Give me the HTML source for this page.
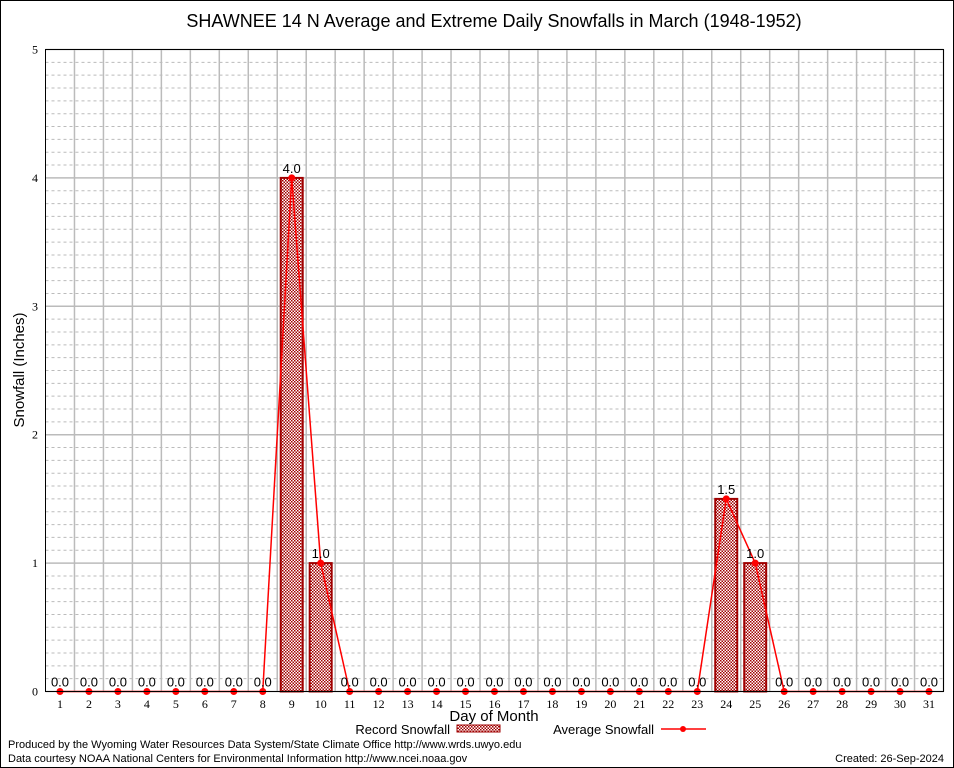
<!DOCTYPE html>
<html><head><meta charset="utf-8"><style>
body{margin:0;background:#fff}
svg{display:block;font-family:"Liberation Sans",sans-serif}
</style></head><body>
<svg id="c" width="954" height="768" viewBox="0 0 954 768">
<defs><pattern id="chk" width="3" height="3" patternUnits="userSpaceOnUse"><rect width="3" height="3" fill="#fff"/><rect width="1.5" height="1.5" fill="#a00000"/><rect x="1.5" y="1.5" width="1.5" height="1.5" fill="#a00000"/></pattern></defs>
<rect x="0.5" y="0.5" width="953" height="767" fill="#fff" stroke="#000"/>
<g id="grid"></g><g id="bars"></g><g id="line"></g><g id="labels"></g>
<rect x="45.5" y="49.5" width="898" height="642" fill="none" stroke="#000"/>
<text x="494" y="27" font-size="18" text-anchor="middle">SHAWNEE 14 N Average and Extreme Daily Snowfalls in March (1948-1952)</text>
<text transform="translate(24,370) rotate(-90)" font-size="15" text-anchor="middle">Snowfall (Inches)</text>
<text x="494" y="721" font-size="15" text-anchor="middle">Day of Month</text>
<g><text x="450" y="734" font-size="13" text-anchor="end">Record Snowfall</text><rect x="457" y="725" width="43" height="7" fill="url(#chk)" stroke="#a00000"/></g>
<g><text x="654" y="734" font-size="13" text-anchor="end">Average Snowfall</text><line x1="661" y1="729" x2="706" y2="729" stroke="red" stroke-width="1.5"/><circle cx="683" cy="729" r="3" fill="red"/></g>
<text x="8" y="748" font-size="11">Produced by the Wyoming Water Resources Data System/State Climate Office http://www.wrds.uwyo.edu</text>
<text x="8" y="762" font-size="11">Data courtesy NOAA National Centers for Environmental Information http://www.ncei.noaa.gov</text>
<text x="944" y="762" font-size="11" text-anchor="end">Created: 26-Sep-2024</text>
</svg>
<script>
const days=[1,2,3,4,5,6,7,8,9,10,11,12,13,14,15,16,17,18,19,20,21,22,23,24,25,26,27,28,29,30,31];
const recordVals=[0,0,0,0,0,0,0,0,4.0,1.0,0,0,0,0,0,0,0,0,0,0,0,0,0,1.5,1.0,0,0,0,0,0,0];
const avgVals=[0,0,0,0,0,0,0,0,4.0,1.0,0,0,0,0,0,0,0,0,0,0,0,0,0,1.5,1.0,0,0,0,0,0,0];
const yTicks=[0,1,2,3,4,5];
const NS="http://www.w3.org/2000/svg";
const X=d=>45.5+(d-0.5)*(898/31);
const Y=v=>691.5-v*(642/5);
function mk(p,t,a){const e=document.createElementNS(NS,t);for(const k in a)e.setAttribute(k,a[k]);document.getElementById(p).appendChild(e);return e;}
for(let i=1;i<50;i++){if(i%10===0)continue;
 const g=mk('grid','line',{x1:45.5,x2:943.5,y1:Y(i/10),y2:Y(i/10),stroke:'#bbb','stroke-dasharray':'3,3'});
 
 }
yTicks.forEach(t=>{
 const g=mk('grid','line',{x1:45.5,x2:943.5,y1:Y(t),y2:Y(t),stroke:'#bbb','stroke-width':1.5});
 
 
 const l=mk('labels','text',{x:38,y:Y(t)+4,'font-size':12,'text-anchor':'end','font-family':'Liberation Serif'});l.textContent=t;
 
 });
days.forEach(d=>{
 const g=mk('grid','line',{x1:X(d+0.5),x2:X(d+0.5),y1:49.5,y2:691.5,stroke:'#bbb','stroke-width':1.5});
 
 
 const l=mk('labels','text',{x:X(d),y:708,'font-size':12,'text-anchor':'middle','font-family':'Liberation Serif'});l.textContent=d;
 
 });
recordVals.forEach((v,i)=>{
 if(v>0){const b=mk('bars','rect',{x:X(days[i])-11,y:Y(v),width:22,height:Y(0)-Y(v),fill:'url(#chk)',stroke:'#a00000','stroke-width':2});
 
 }
 const l=mk('labels','text',{x:X(days[i]),y:Y(v)-5,'font-size':13,'text-anchor':'middle'});l.textContent=v.toFixed(1);
 
 });
const pl=mk('line','polyline',{points:avgVals.map((v,i)=>X(days[i])+','+Y(v)).join(' '),fill:'none',stroke:'red','stroke-width':1.5});


avgVals.forEach((v,i)=>{const c=mk('line','circle',{cx:X(days[i]),cy:Y(v),r:3.5,fill:'red'});
 
 });
</script>
</body></html>
